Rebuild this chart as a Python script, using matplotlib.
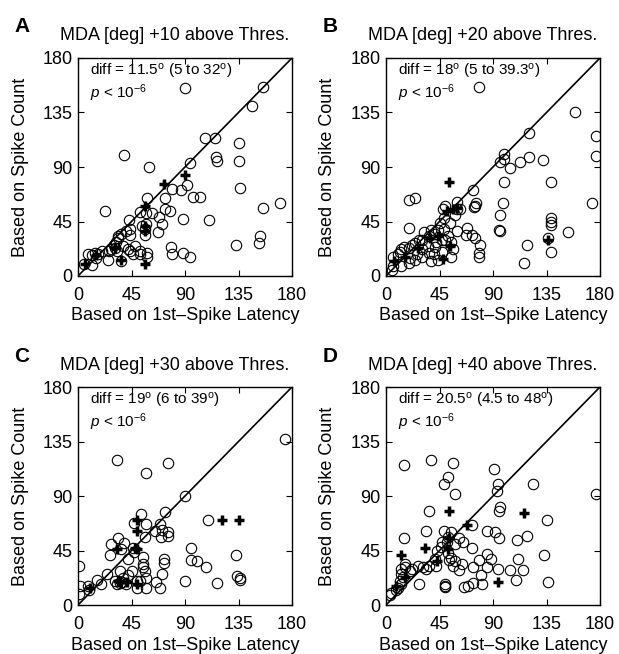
import matplotlib
matplotlib.use("Agg")
import matplotlib.pyplot as plt

plt.rcParams['font.family'] = ['Liberation Sans', 'DejaVu Sans']
plt.rcParams['mathtext.fontset'] = 'custom'
plt.rcParams['mathtext.rm'] = 'Liberation Sans'
plt.rcParams['mathtext.it'] = 'Liberation Sans:italic'
plt.rcParams['mathtext.bf'] = 'Liberation Sans:bold'

# ---------------- data ----------------
ticks = [0, 45, 90, 135, 180]
tick_labels = ['0', '45', '90', '135', '180']
panel_letters = ['A', 'B', 'C', 'D']
titles = ['MDA [deg] +10 above Thres.', 'MDA [deg] +20 above Thres.',
          'MDA [deg] +30 above Thres.', 'MDA [deg] +40 above Thres.']
diff_texts = [r'diff = 11.5$^{\mathrm{o}}$ (5 to 32$^{\mathrm{o}}$)',
              r'diff = 18$^{\mathrm{o}}$ (5 to 39.3$^{\mathrm{o}}$)',
              r'diff = 19$^{\mathrm{o}}$ (6 to 39$^{\mathrm{o}}$)',
              r'diff = 20.5$^{\mathrm{o}}$ (4.5 to 48$^{\mathrm{o}}$)']
p_text = r'$p$ < 10$^{-6}$'
xlabel = 'Based on 1st\u2013Spike Latency'
ylabel = 'Based on Spike Count'

a_circ_x = [90, 156, 146, 107, 115, 135, 116, 117, 135, 94, 39, 60, 136, 92, 87, 79, 97, 103, 73, 73,
            77, 58, 23, 170, 156, 43, 52, 57, 62, 68, 71, 67, 88, 110, 57, 44, 44, 36, 34, 38,
            31, 26, 33, 20, 8, 15, 25, 12, 17, 14, 5, 12, 36, 44, 46, 52, 52, 58, 58, 78,
            79, 88, 94, 133, 153, 152, 54, 56, 56, 30, 32, 34, 40, 28, 48, 42]
a_circ_y = [155, 156, 140, 114, 114, 110, 98, 95, 95, 93, 100, 90, 73, 75, 71, 72, 65, 65, 64, 55,
            54, 64, 54, 60, 56, 46, 53, 52, 52, 49, 43, 36, 47, 46, 43, 39, 34, 35, 31, 25,
            23, 21, 21, 21, 18, 15, 13, 17, 18, 19, 10, 9, 12, 21, 18, 21, 18, 19, 16, 24,
            18, 19, 16, 26, 33, 27, 41, 34, 39, 26, 28, 33, 37, 22, 25, 22]
a_plus_x = [72, 90, 56, 56, 56, 36, 56, 6, 31, 15]
a_plus_y = [76, 83, 58, 41, 37, 13, 10, 10, 23, 17]

b_circ_x = [78, 159, 177, 177, 120, 99, 99, 96, 104, 113, 120, 132, 99, 139, 73, 173, 74, 76, 75, 98,
            96, 19, 24, 19, 60, 60, 60, 68, 67, 72, 75, 79, 78, 78, 95, 96, 119, 116, 139, 139,
            139, 136, 139, 153, 13, 19, 24, 30, 36, 41, 44, 49, 54, 49, 48, 52, 47, 41, 36, 30,
            24, 19, 13, 6, 6, 5, 55, 56, 44, 38, 58, 62, 50, 45, 38, 32, 28, 22, 15, 10,
            12, 30, 35, 42, 50, 55, 47, 40, 26, 20]
b_circ_y = [156, 135, 116, 99, 118, 101, 97, 94, 89, 94, 98, 96, 78, 78, 71, 60, 57, 60, 58, 60,
            50, 63, 64, 40, 61, 55, 37, 40, 34, 34, 31, 26, 19, 16, 38, 37, 26, 11, 48, 45,
            42, 31, 20, 36, 22, 23, 27, 30, 33, 35, 38, 39, 44, 48, 55, 33, 30, 24, 19, 16,
            13, 11, 8, 16, 8, 5, 16, 22, 13, 12, 50, 55, 58, 44, 38, 36, 30, 26, 24, 18,
            20, 22, 25, 28, 30, 28, 20, 18, 18, 15]
b_plus_x = [53, 136, 51, 56, 54, 48, 44, 27, 16, 7, 37, 60]
b_plus_y = [78, 30, 54, 55, 25, 14, 33, 23, 16, 12, 31, 56]

c_circ_x = [174, 33, 76, 57, 90, 109, 53, 73, 47, 57, 69, 65, 71, 76, 76, 70, 56, 34, 95, 133,
            95, 100, 72, 108, 55, 55, 55, 56, 71, 134, 136, 136, 90, 117, 66, 69, 1, 27, 28, 42,
            45, 42, 35, 37, 40, 33, 31, 24, 16, 8, 9, 2, 1, 50, 52, 57, 57, 50, 19, 35,
            38, 72, 36, 39, 46, 47]
c_circ_y = [137, 120, 117, 109, 90, 70, 75, 77, 68, 67, 67, 61, 62, 60, 57, 56, 56, 55, 47, 41,
            37, 36, 38, 31, 40, 34, 31, 28, 26, 24, 21, 22, 20, 18, 19, 14, 32, 41, 50, 38,
            28, 25, 28, 19, 17, 17, 20, 26, 21, 16, 12, 16, 9, 20, 20, 22, 14, 14, 17, 18,
            22, 35, 46, 51, 47, 44]
c_plus_x = [121, 135, 50, 50, 33, 50, 34, 50, 10, 41, 48, 35]
c_plus_y = [70, 70, 70, 61, 46, 46, 20, 17, 14, 19, 47, 19]

d_circ_x = [177, 15, 38, 56, 49, 52, 58, 91, 94, 93, 124, 96, 95, 36, 135, 72, 85, 92, 95, 119,
            110, 133, 111, 34, 15, 49, 55, 52, 51, 47, 61, 65, 72, 52, 55, 58, 53, 56, 64, 61,
            73, 78, 85, 88, 85, 80, 94, 104, 115, 109, 136, 81, 73, 69, 66, 50, 50, 50, 28, 36,
            34, 31, 27, 41, 42, 13, 16, 13, 14, 12, 13, 10, 8, 4, 3, 16, 20, 22, 58, 46, 43]
d_circ_y = [92, 116, 120, 117, 100, 106, 92, 112, 100, 94, 100, 81, 78, 78, 70, 66, 61, 60, 55, 57,
            54, 41, 38, 61, 55, 61, 60, 56, 52, 52, 55, 52, 47, 43, 39, 36, 37, 32, 34, 29,
            31, 37, 42, 38, 31, 25, 30, 29, 29, 21, 19, 17, 18, 16, 15, 17, 15, 16, 17, 32,
            30, 31, 32, 38, 32, 30, 31, 26, 23, 20, 17, 14, 12, 10, 8, 34, 28, 30, 50, 48, 45]
d_plus_x = [53, 116, 68, 13, 33, 43, 52, 94, 8, 16, 53]
d_plus_y = [78, 76, 66, 41, 47, 36, 46, 19, 16, 23, 55]

circ_x = [a_circ_x, b_circ_x, c_circ_x, d_circ_x]
circ_y = [a_circ_y, b_circ_y, c_circ_y, d_circ_y]
plus_x = [a_plus_x, b_plus_x, c_plus_x, d_plus_x]
plus_y = [a_plus_y, b_plus_y, c_plus_y, d_plus_y]

# ---------------- layout ----------------
W, H = 619, 654
fig = plt.figure(figsize=(W / 100, H / 100), dpi=100)
ax_w, ax_h = 214, 218
lefts = [78, 386, 78, 386]
tops = [58, 58, 387, 387]

for i in range(4):
    l, t = lefts[i], tops[i]
    ax = fig.add_axes([l / W, 1 - (t + ax_h) / H, ax_w / W, ax_h / H])
    ax.plot([0, 180], [0, 180], color='black', lw=1.2, zorder=1)
    ax.plot(circ_x[i], circ_y[i], linestyle='none', marker='o', markersize=7.5,
            markerfacecolor='none', markeredgecolor='black', markeredgewidth=0.8, zorder=2)
    ax.plot(plus_x[i], plus_y[i], linestyle='none', marker='+', markersize=7.8,
            markeredgecolor='black', markeredgewidth=2.5, zorder=3)
    ax.set_xlim(0, 180)
    ax.set_ylim(0, 180)
    ax.set_xticks(ticks)
    ax.set_yticks(ticks)
    ax.set_xticklabels(tick_labels)
    ax.set_yticklabels(tick_labels)
    ax.tick_params(direction='in', top=True, right=True, length=4, width=0.8,
                   labelsize=13)
    ax.tick_params(axis='x', pad=8)
    ax.tick_params(axis='y', pad=4)
    for s in ax.spines.values():
        s.set_linewidth(1.0)
    ax.text(12 / ax_w, 1 - 13 / ax_h, diff_texts[i], transform=ax.transAxes,
            fontsize=11, ha='left', va='center')
    ax.text(12 / ax_w, 1 - 35 / ax_h, p_text, transform=ax.transAxes,
            fontsize=11, ha='left', va='center')
    ax.text(0.5, -40 / ax_h, xlabel, transform=ax.transAxes, fontsize=13,
            ha='center', va='center')
    ax.text(-58 / ax_w, 0.5, ylabel, transform=ax.transAxes, fontsize=13,
            ha='center', va='center', rotation=90)
    ax.text(0.45, 1 + 22 / ax_h, titles[i], transform=ax.transAxes, fontsize=13,
            ha='center', va='center')
    ax.text(-56 / ax_w, 1 + 31 / ax_h, panel_letters[i], transform=ax.transAxes,
            fontsize=15, fontweight='bold', ha='center', va='center')

fig.savefig('out.png', dpi=100)
